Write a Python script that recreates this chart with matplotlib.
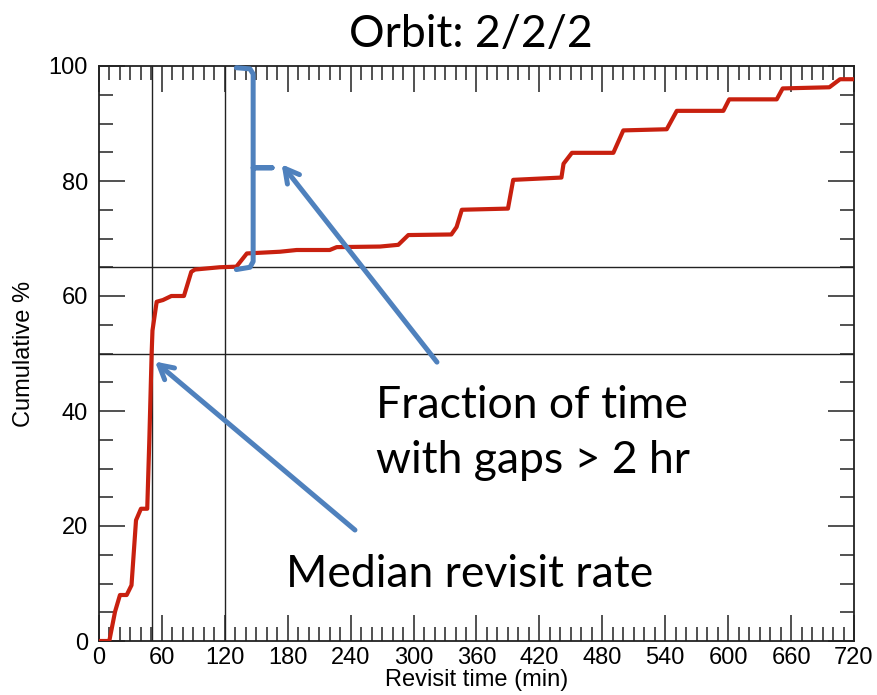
import matplotlib
matplotlib.use("Agg")
import matplotlib.pyplot as plt
import numpy as np

# cumulative distribution of revisit time
revisit_min = [0, 9.8, 15.3, 20, 26.4, 31, 35.3, 40, 46, 48, 50.2, 51, 55, 61, 69, 81,
               88, 91.5, 115, 131, 141, 172.6, 188.5, 220, 226.7, 268, 285.4, 295, 336,
               341, 346, 390, 395, 441, 443, 451, 490.5, 500, 541.4, 551, 595.4, 601,
               646.3, 652, 696.5, 706.7, 720]
cum_pct = [0, 0, 5.1, 8, 8, 9.7, 21, 23, 23, 35, 50, 54, 59, 59.3, 60, 60,
           64.2, 64.6, 65, 65.1, 67.4, 67.7, 68, 68, 68.5, 68.6, 68.9, 70.6, 70.7,
           72, 75, 75.2, 80.2, 80.6, 83, 84.9, 84.9, 88.8, 89, 92.2, 92.2, 94.2,
           94.2, 96.1, 96.3, 97.7, 97.7]

median_min = 50.2
gap_min = 120
median_pct = 50
gap_pct = 65

xticks = np.arange(0, 721, 60)
yticks = np.arange(0, 101, 20)

red = '#C8200F'
blue = '#4F81BD'
note_font = 'Lato'

fig = plt.figure(figsize=(8.77, 6.95), dpi=100)
ax = fig.add_axes([99/877, 54/695, 755/877, 575/695])

ax.plot(revisit_min, cum_pct, color=red, lw=3.0, solid_joinstyle='round', zorder=3)

for v in [median_min, gap_min]:
    ax.axvline(v, color='#222222', lw=1.0, zorder=2)
for h in [median_pct, gap_pct]:
    ax.axhline(h, color='#222222', lw=1.0, zorder=2)

ax.set_xlim(0, 720)
ax.set_ylim(0, 100)
ax.set_xticks(xticks)
ax.set_yticks(yticks)
ax.set_xticks(np.arange(0, 721, 10), minor=True)
ax.set_yticks(np.arange(0, 101, 5), minor=True)
ax.tick_params(which='both', direction='in', top=True, right=True, width=1.1, color='#222222')
ax.tick_params(which='major', length=19)
ax.tick_params(which='minor', length=10)
ax.tick_params(axis='x', pad=4, labelsize=17)
ax.tick_params(axis='y', pad=8, labelsize=17)
for s in ax.spines.values():
    s.set_linewidth(1.3)
    s.set_color('#222222')
for lab in ax.get_xticklabels() + ax.get_yticklabels():
    lab.set_fontfamily('Liberation Sans')

ax.set_xlabel('Revisit time (min)', fontsize=17, family='Liberation Sans', labelpad=0)
ax.set_ylabel('Cumulative %', fontsize=17, family='Liberation Sans', labelpad=10)

# bracket showing the share of time with gaps over 2 hours
bx = [131, 144, 147, 147, 165, 147, 147, 144, 131]
by = [99.7, 99.5, 98.6, 82.3, 82.3, 82.3, 66.0, 65.0, 64.6]
ax.plot(bx, by, color=blue, lw=3.6, solid_joinstyle='round', solid_capstyle='round',
        zorder=4, clip_on=False)

arrow = dict(arrowstyle='->,head_length=1.0,head_width=0.55', color=blue, lw=3.6,
             shrinkA=0, shrinkB=0)
ax.annotate('', xy=(174.2, 82.9), xytext=(322.3, 48.5), arrowprops=arrow, zorder=4)
ax.annotate('', xy=(53.4, 48.6), xytext=(244.1, 19.3), arrowprops=arrow, zorder=4)

ax.text(264, 44.6, 'Fraction of time\nwith gaps > 2 hr', fontsize=32, family=note_font,
        ha='left', va='top', linespacing=1.45, zorder=5)
ax.text(178, 9.4, 'Median revisit rate', fontsize=32, family=note_font,
        ha='left', va='baseline', zorder=5)

fig.text(471/877, (695 - 47)/695, 'Orbit: 2/2/2', fontsize=32, family=note_font,
         ha='center', va='baseline')

fig.savefig('out.png', dpi=100, facecolor='white')
